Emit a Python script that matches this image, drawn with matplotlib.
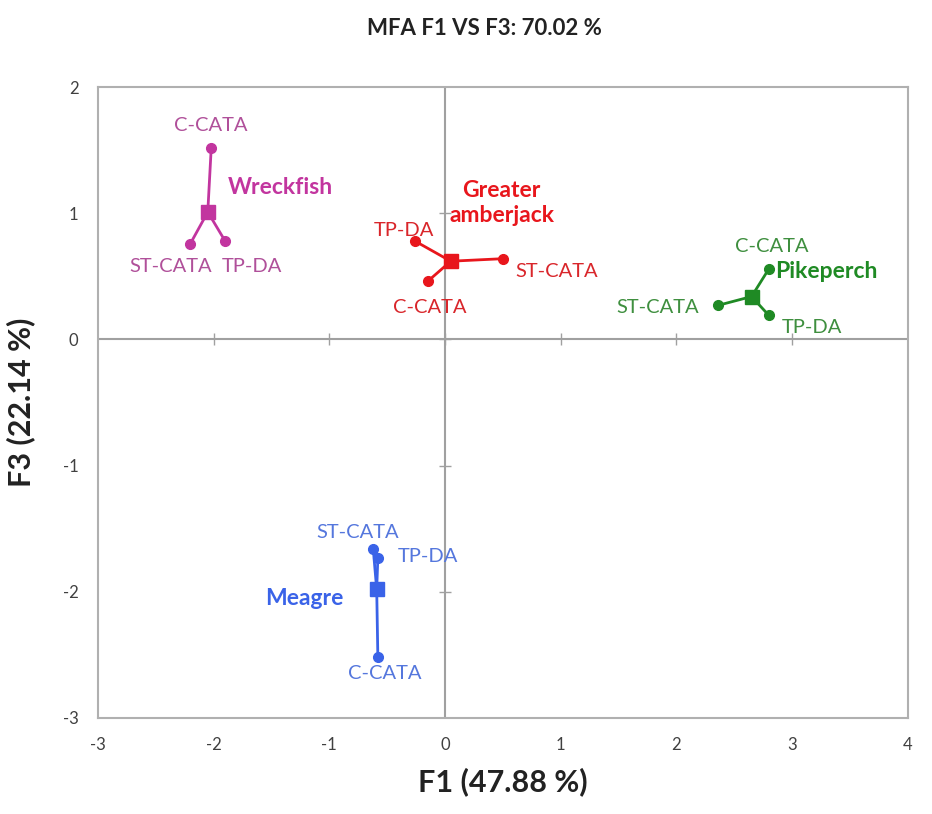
import matplotlib.pyplot as plt
import numpy as np

plt.rcParams['font.family'] = ['Lato', 'DejaVu Sans']
plt.rcParams['axes.unicode_minus'] = False

# group centroids (F1, F3)
species = ['Wreckfish', 'Greater\namberjack', 'Pikeperch', 'Meagre']
centroid_f1 = [-2.05, 0.05, 2.65, -0.59]
centroid_f3 = [1.01, 0.62, 0.34, -1.98]

# partial points per method, order: C-CATA, ST-CATA, TP-DA
methods = ['C-CATA', 'ST-CATA', 'TP-DA']
partial_f1 = [[-2.02, -2.20, -1.90],
              [-0.15, 0.50, -0.26],
              [2.80, 2.36, 2.80],
              [-0.58, -0.62, -0.58]]
partial_f3 = [[1.52, 0.76, 0.78],
              [0.46, 0.64, 0.78],
              [0.56, 0.27, 0.19],
              [-2.52, -1.66, -1.73]]

xticks = [-3, -2, -1, 0, 1, 2, 3, 4]
yticks = [-3, -2, -1, 0, 1, 2]

colors = ['#c2359f', '#e8161c', '#1f8a24', '#3a63e8']
label_colors = ['#b0509a', '#d9262b', '#3f8f3f', '#5577dd']

# label offsets in pixels (layout only)
point_offsets = [[(0, 22), (-20, -23), (27, -25)],
                 [(2, -26), (54, -13), (-11, 11)],
                 [(3, 22), (-60, -2), (43, -12)],
                 [(7, -16), (-16, 16), (50, 1)]]
group_offsets = [(20, 25, 'left'), (51, 58, 'center'), (24, 25, 'left'), (-72, -9, 'center')]

fig = plt.figure(figsize=(9.32, 8.14), dpi=100)
ax = fig.add_axes([0.105, 0.118, 0.869, 0.775])

ax.set_xlim(-3, 4)
ax.set_ylim(-3, 2)
ax.axhline(0, color='#a0a0a0', lw=1.5, zorder=1)
ax.axvline(0, color='#a0a0a0', lw=1.5, zorder=1)
# small ticks on the zero axes
ax.plot(xticks[1:-1], np.zeros(len(xticks) - 2), ls='none', marker='|', ms=9, color='#a0a0a0', zorder=1)
ax.plot(np.zeros(len(yticks) - 2), yticks[1:-1], ls='none', marker='_', ms=9, color='#a0a0a0', zorder=1)

for i, name in enumerate(species):
    cx, cy = centroid_f1[i], centroid_f3[i]
    for j, m in enumerate(methods):
        px, py = partial_f1[i][j], partial_f3[i][j]
        ax.plot([cx, px], [cy, py], color=colors[i], lw=2, zorder=2)
        ax.plot(px, py, 'o', color=colors[i], ms=7, zorder=3)
        dx, dy = point_offsets[i][j]
        ax.annotate(m, (px, py), xytext=(dx, dy), textcoords='offset pixels',
                    ha='center', va='center', fontsize=14.5, color=label_colors[i])
    ax.plot(cx, cy, 's', color=colors[i], ms=10, zorder=4)
    gx, gy, ha = group_offsets[i]
    ax.annotate(name, (cx, cy), xytext=(gx, gy), textcoords='offset pixels',
                ha=ha, va='center', fontsize=16.5, fontweight='bold', color=colors[i],
                linespacing=1.25)

ax.set_xticks(xticks)
ax.set_yticks(yticks)
ax.tick_params(length=0, labelsize=12, labelcolor='#404040', pad=14)
for s in ax.spines.values():
    s.set_color('#b0b0b0')
    s.set_linewidth(1.5)

ax.set_xlabel('F1 (47.88 %)', fontsize=22, fontweight='bold', color='#222222', labelpad=10)
ax.set_ylabel('F3 (22.14 %)', fontsize=22, fontweight='bold', color='#222222', labelpad=20)
fig.text(0.52, 0.965, 'MFA F1 VS F3: 70.02 %', ha='center', va='center',
         fontsize=16, fontweight='bold', color='#222222')

fig.savefig('out.png', dpi=100)
